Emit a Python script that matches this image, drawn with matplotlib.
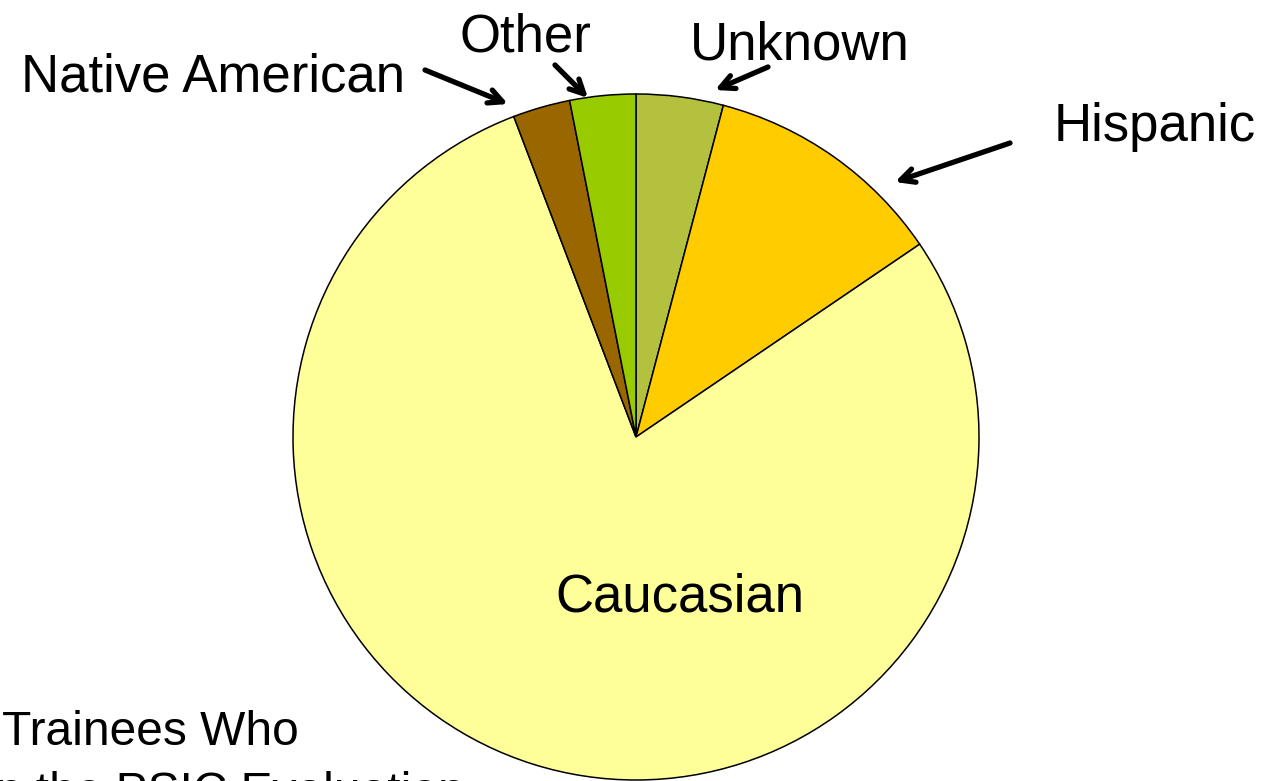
import matplotlib
matplotlib.use("Agg")
from matplotlib import pyplot as plt

plt.rcParams['font.family'] = ['Liberation Sans', 'DejaVu Sans']

# slices, clockwise from 12 o'clock
groups = ['Unknown', 'Hispanic', 'Caucasian', 'Native American', 'Other']
shares = [4.1, 11.4, 78.7, 2.7, 3.1]
colors = ['#B3C13F', '#FFCC00', '#FFFF99', '#996600', '#99CC00']

W, H = 1264, 781
fig = plt.figure(figsize=(W / 100, H / 100), dpi=100)
ax = fig.add_axes([0, 0, 1, 1])

cx, cy, r = 636, H - 437, 343
ax.pie(shares, colors=colors, startangle=90, counterclock=False,
       center=(cx, cy), radius=r,
       wedgeprops={'edgecolor': 'black', 'linewidth': 1.1})
ax.set_xlim(0, W)
ax.set_ylim(0, H)
ax.axis('off')

arrow = dict(arrowstyle='->,head_length=1.0,head_width=0.5', lw=3.8, color='black',
             shrinkA=0, shrinkB=0)

# outside labels with arrows (pixel coords, y from top)
ax.text(213, H - 77, 'Native American', fontsize=38, ha='center', va='center')
ax.annotate('', xy=(508, H - 104), xytext=(425, H - 70), arrowprops=arrow)

ax.text(525, H - 37, 'Other', fontsize=38, ha='center', va='center')
ax.annotate('', xy=(588, H - 98), xytext=(555, H - 65), arrowprops=arrow)

ax.text(800, H - 45, 'Unknown', fontsize=38, ha='center', va='center')
ax.annotate('', xy=(715, H - 90), xytext=(768, H - 67), arrowprops=arrow)

ax.text(1155, H - 127, 'Hispanic', fontsize=38, ha='center', va='center')
ax.annotate('', xy=(895, H - 182), xytext=(1010, H - 143), arrowprops=arrow)

ax.text(680, H - 597, 'Caucasian', fontsize=38, ha='center', va='center')

# caption, partly cut off at the edges as in the source
ax.text(2, H - 745, 'Trainees Who', fontsize=34.5, ha='left', va='baseline')
ax.text(-15, H - 806, 'in the PSIC Evaluation', fontsize=34.5, ha='left', va='baseline')

fig.savefig('out.png', dpi=100)
plt.close(fig)
